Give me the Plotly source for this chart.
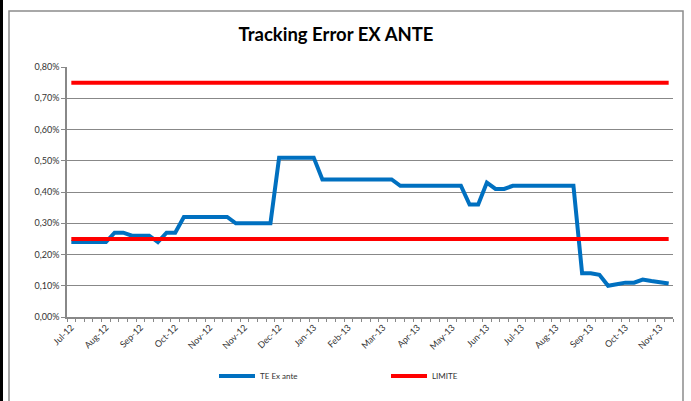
import pandas as pd
import plotly.graph_objs as go

# weekly observations, Jul-12 .. Nov-13
dates = pd.date_range("2012-07-13", periods=70, freq="7D")

te_ex_ante = [0.24, 0.24, 0.24, 0.24, 0.24, 0.27, 0.27, 0.26, 0.26, 0.26,
              0.24, 0.27, 0.27, 0.32, 0.32, 0.32, 0.32, 0.32, 0.32, 0.30,
              0.30, 0.30, 0.30, 0.30, 0.51, 0.51, 0.51, 0.51, 0.51, 0.44,
              0.44, 0.44, 0.44, 0.44, 0.44, 0.44, 0.44, 0.44, 0.42, 0.42,
              0.42, 0.42, 0.42, 0.42, 0.42, 0.42, 0.36, 0.36, 0.43, 0.41,
              0.41, 0.42, 0.42, 0.42, 0.42, 0.42, 0.42, 0.42, 0.42, 0.14,
              0.14, 0.135, 0.10, 0.105, 0.11, 0.11, 0.12, 0.115, 0.11, 0.107]
limite_low = [0.25] * 70
limite_high = [0.75] * 70

y_ticks = [0, 0.1, 0.2, 0.3, 0.4, 0.5, 0.6, 0.7, 0.8]

te = [v / 100 for v in te_ex_ante]
lo = [v / 100 for v in limite_low]
hi = [v / 100 for v in limite_high]

tick_font = dict(family="Lato, Open Sans, sans-serif", size=9, color="#333333")
grey = "#888888"

fig = go.Figure()
fig.add_trace(go.Scatter(x=dates, y=te, mode="lines", name="TE Ex ante",
                         line=dict(color="#0070C0", width=4)))
fig.add_trace(go.Scatter(x=dates, y=lo, mode="lines", name="LIMITE",
                         line=dict(color="#FF0000", width=4)))
fig.add_trace(go.Scatter(x=dates, y=hi, mode="lines", name="LIMITE",
                         showlegend=False,
                         line=dict(color="#FF0000", width=4)))

half = pd.Timedelta(days=3.5)
fig.update_layout(
    width=691, height=401,
    margin=dict(l=67, r=18, t=67, b=84),
    paper_bgcolor="white", plot_bgcolor="white",
    separators=",.",
    title=dict(text="<b>Tracking Error EX ANTE</b>", x=336 / 691, xanchor="center",
               y=1 - 35 / 401, yanchor="middle", automargin=False,
               font=dict(family="Lato, Open Sans, sans-serif", size=18.5, color="black")),
    showlegend=True,
    legend=dict(orientation="h", xref="container", yref="container",
                x=214 / 691, xanchor="left", y=(401 - 376) / 401, yanchor="middle",
                font=dict(family="Lato, Open Sans, sans-serif", size=8, color="#333333"),
                entrywidth=121, entrywidthmode="pixels", itemwidth=36,
                bgcolor="rgba(0,0,0,0)"),
    xaxis=dict(type="date", range=[dates[0] - half, dates[-1] + half],
               tickvals=dates[::4], tickformat="%b-%y", tickangle=-45,
               automargin=False,
               ticks="", showgrid=False, showline=True, linecolor=grey, linewidth=1.5,
               tickfont=tick_font,
               minor=dict(tick0=dates[0] - half, dtick=7 * 86400000, ticks="outside",
                          ticklen=3, tickcolor=grey, showgrid=False)),
    yaxis=dict(range=[0, 0.008], tickvals=[v / 100 for v in y_ticks],
               tickformat=".2%", showgrid=True, gridcolor=grey, gridwidth=1,
               showline=True, linecolor=grey, linewidth=1.5, automargin=False,
               ticks="outside", ticklen=4, tickcolor=grey,
               tickfont=tick_font, zeroline=False),
)

# chart area frame and the left page edge
def px(x):
    return (x - 67) / 606

def py(y):
    return (317 - y) / 250

fig.add_shape(type="rect", xref="paper", yref="paper",
              x0=px(9), x1=px(683), y0=py(405), y1=py(11),
              line=dict(color="#8c8c8c", width=1.5), layer="below")
fig.add_shape(type="line", xref="paper", yref="paper",
              x0=px(1.5), x1=px(1.5), y0=py(402), y1=py(-1),
              line=dict(color="black", width=3))

fig.write_html("out.html", config={"displayModeBar": False},
               post_script="document.body.style.margin='0';"
                           "document.body.style.overflow='hidden';")
